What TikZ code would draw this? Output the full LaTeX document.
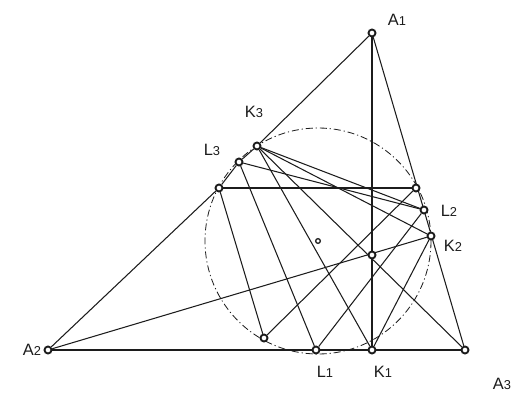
\documentclass[tikz,border=0pt]{standalone}
\usepackage{fontspec}
\setmainfont{Liberation Sans}
\usepackage{tikz}
\usepackage{xcolor}
\usetikzlibrary{positioning, backgrounds}
\definecolor{ink}{RGB}{28, 28, 28}
\newcommand{\ptname}[2]{#1{\fontsize{11}{12}\selectfont #2}}
\tikzset{
    pnt/.style={circle, draw=ink, line width=1.6pt, fill=white, inner sep=0pt, minimum size=6pt},
    mid/.style={pnt, line width=1.1pt, minimum size=4pt},
    lbl/.style={font=\fontsize{14}{16}\selectfont, text=ink, inner sep=0pt},
    seg/.style={line width=0.9pt, ink},
    ninecirc/.style={line width=0.7pt, ink, dash pattern=on 6pt off 2.5pt on 1pt off 2.5pt}
}

\begin{document}
\begin{tikzpicture}[x=0.03cm, y=-0.03cm]
    \useasboundingbox (0,0) rectangle (527,394);

    % triangle vertices and feet
    \node[pnt] (a1) at (372,33) {};
    \node[pnt] (a2) at (48,350) {};
    \node[pnt] (a3) at (465,350) {};
    \node[pnt] (k1) at (372,350) {};
    \node[pnt] (k2) at (431,236) {};
    \node[pnt] (k3) at (257,146) {};
    \node[pnt] (l1) at (316,350) {};
    \node[pnt] (l2) at (424,210) {};
    \node[pnt] (l3) at (239,162) {};
    \node[pnt] (p) at (219,188) {};
    \node[pnt] (q) at (416,188) {};
    \node[pnt] (m) at (264,338) {};
    \node[pnt] (h) at (372,255) {};
    \node[mid] (ctr) at (318,241) {};

    % labels
    \node[lbl] (a1lbl) at (397,20) {\ptname{A}{1}};
    \node[lbl] (a2lbl) at (32,350) {\ptname{A}{2}};
    \node[lbl] (a3lbl) at (502,384) {\ptname{A}{3}};
    \node[lbl] (k1lbl) at (383,372) {\ptname{K}{1}};
    \node[lbl] (k2lbl) at (453,246) {\ptname{K}{2}};
    \node[lbl] (k3lbl) at (254,112) {\ptname{K}{3}};
    \node[lbl] (l1lbl) at (325,372) {\ptname{L}{1}};
    \node[lbl] (l2lbl) at (449,211) {\ptname{L}{2}};
    \node[lbl] (l3lbl) at (212,150) {\ptname{L}{3}};

    \begin{scope}[on background layer]
        \draw[ninecirc] (ctr) circle[radius=3.39cm];
        \draw[seg] (a1) -- (k3) -- (l3) -- (p) -- (a2);
        \draw[seg] (a1) -- (a3);
        \draw[seg] (a2) -- (a3);
        \draw[seg] (a1) -- (k1);
        \draw[seg] (a2) -- (k2);
        \draw[seg] (k3) -- (a3);
        \draw[seg] (p) -- (q);
        \draw[seg] (p) -- (m);
        \draw[seg] (m) -- (q);
        \draw[seg] (l3) -- (l1);
        \draw[seg] (k3) -- (k1);
        \draw[seg] (l1) -- (l2);
        \draw[seg] (k1) -- (k2);
        \draw[seg] (k3) -- (l2);
        \draw[seg] (k3) -- (k2);
        \draw[seg] (l3) -- (l2);
    \end{scope}
\end{tikzpicture}
\end{document}
